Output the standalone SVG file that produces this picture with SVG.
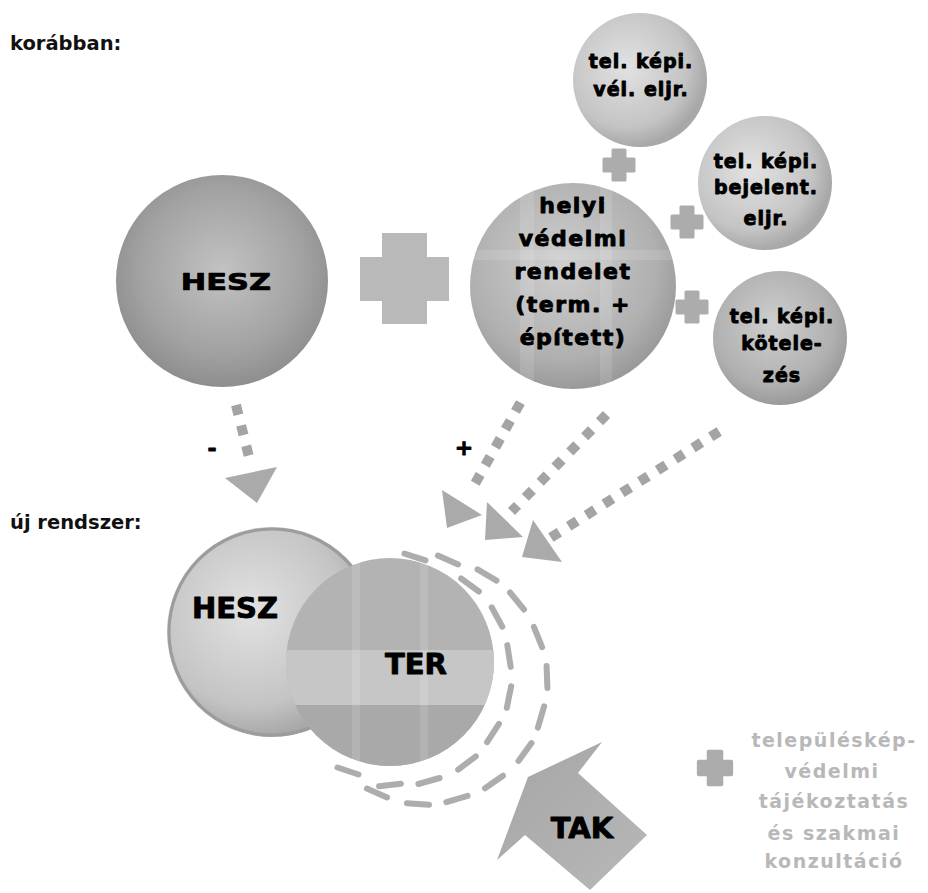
<svg xmlns="http://www.w3.org/2000/svg" xmlns:xlink="http://www.w3.org/1999/xlink" width="928" height="893" viewBox="0 0 928 893">
<style>
.lbl{font-family:"DejaVu Sans","Liberation Sans",sans-serif;font-weight:900;fill:#000;text-anchor:middle;stroke:#000;stroke-width:0.9;stroke-linejoin:round}
.hdr{font-family:"DejaVu Sans","Liberation Sans",sans-serif;font-weight:bold;font-size:19.5px;fill:#111}
.dots{fill:none;stroke:#a4a4a4;stroke-width:10}
.dash{fill:none;stroke:#adadad;stroke-width:6;stroke-linecap:round}
.head{fill:#aaaaaa}
.leg{font-family:"DejaVu Sans","Liberation Sans",sans-serif;font-weight:bold;font-size:19px;fill:#b8b8b8;text-anchor:middle;letter-spacing:1.5px}
.sm{font-size:19px;letter-spacing:1px}
.md{font-size:22px;letter-spacing:1.5px}
.big{font-size:29px}
.stripe{fill:#ffffff;opacity:0.12}
</style>
<defs>
<radialGradient id="gDark" cx="50%" cy="45%" r="55%">
<stop offset="0" stop-color="#c2c2c2"/><stop offset="0.7" stop-color="#a2a2a2"/><stop offset="1" stop-color="#8e8e8e"/>
</radialGradient>
<radialGradient id="gMid" cx="45%" cy="40%" r="60%">
<stop offset="0" stop-color="#cfcfcf"/><stop offset="0.75" stop-color="#b0b0b0"/><stop offset="1" stop-color="#9a9a9a"/>
</radialGradient>
<radialGradient id="gLight" cx="40%" cy="40%" r="60%">
<stop offset="0" stop-color="#e2e2e2"/><stop offset="0.75" stop-color="#c4c4c4"/><stop offset="1" stop-color="#a8a8a8"/>
</radialGradient>
<linearGradient id="gTak" x1="0" y1="0" x2="1" y2="1">
<stop offset="0" stop-color="#a5a5a5"/><stop offset="1" stop-color="#b8b8b8"/>
</linearGradient>
<path id="plus" d="M-6,-15h12v9h9v12h-9v9h-12v-9h-9v-12h9z" fill="#acacac" stroke="#acacac" stroke-width="3" stroke-linejoin="round"/>
<clipPath id="cTer"><circle cx="390" cy="662" r="104"/></clipPath>
<clipPath id="cHelyi"><circle cx="573" cy="286" r="103"/></clipPath>
</defs>

<rect width="928" height="893" fill="#ffffff"/>

<text class="hdr" x="10" y="50">korábban:</text>
<text class="hdr" x="10" y="529">új rendszer:</text>

<g id="connectors">
<line class="dots" x1="236" y1="405" x2="249" y2="457" stroke-dasharray="10 11"/>
<polygon class="head" points="225,478 277,467 257,503"/>
<line class="dots" x1="520.4" y1="402.6" x2="474.6" y2="484.4" stroke-dasharray="10 10.6"/>
<polygon class="head" points="442,490 482,515 447,528"/>
<line class="dots" x1="606.5" y1="414.5" x2="511.5" y2="511.5" stroke-dasharray="10 11.2"/>
<polygon class="head" points="487,502 523,537 485,540"/>
<line class="dots" x1="719.2" y1="431.4" x2="550.8" y2="537.6" stroke-dasharray="10 11"/>
<polygon class="head" points="533,520 562,562 522,557"/>
<g id="arc-inner">
<line class="dash" x1="404.5" y1="553.7" x2="425.5" y2="560.3"/>
<line class="dash" x1="461.1" y1="578.5" x2="478.9" y2="591.5"/>
<line class="dash" x1="491.7" y1="607.3" x2="502.3" y2="626.7"/>
<line class="dash" x1="507.3" y1="645.1" x2="510.7" y2="666.9"/>
<line class="dash" x1="511.2" y1="686.2" x2="506.8" y2="707.8"/>
<line class="dash" x1="498.9" y1="723.8" x2="487.1" y2="742.2"/>
<line class="dash" x1="475.8" y1="756.4" x2="458.2" y2="769.6"/>
<line class="dash" x1="439.6" y1="778" x2="418.4" y2="784"/>
<line class="dash" x1="400.9" y1="783.7" x2="379.1" y2="786.3"/>
<line class="dash" x1="358.5" y1="774.5" x2="337.5" y2="767.5"/>
</g>
<g id="arc-outer">
<line class="dash" x1="437.9" y1="555.6" x2="458.1" y2="564.4"/>
<line class="dash" x1="477.5" y1="569.4" x2="496.5" y2="580.6"/>
<line class="dash" x1="510" y1="592.5" x2="524" y2="609.5"/>
<line class="dash" x1="533.9" y1="626.8" x2="542.1" y2="647.2"/>
<line class="dash" x1="546.6" y1="666" x2="547.4" y2="688"/>
<line class="dash" x1="544.1" y1="706.4" x2="537.9" y2="727.6"/>
<line class="dash" x1="531.5" y1="743.1" x2="518.5" y2="760.9"/>
<line class="dash" x1="503" y1="775.7" x2="485" y2="788.3"/>
<line class="dash" x1="467.6" y1="795.9" x2="446.4" y2="802.1"/>
<line class="dash" x1="429" y1="804.8" x2="407" y2="803.2"/>
<line class="dash" x1="387.1" y1="797.4" x2="366.9" y2="788.6"/>
</g>
</g>

<text class="lbl" x="212" y="456" font-size="22">-</text>
<text class="lbl" x="464" y="455" font-size="22">+</text>

<g id="hesz-old">
<circle cx="222" cy="281" r="106" fill="url(#gDark)"/>
<text class="lbl big" x="226" y="290" transform="translate(0,290) scale(1.05,0.8) translate(-10.8,-290)">HESZ</text>
</g>

<g id="plus-big">
<rect x="382" y="233" width="45" height="91" fill="#b9b9b9"/>
<rect x="360" y="257" width="89" height="44" fill="#b9b9b9"/>
</g>

<g id="helyi">
<circle cx="573" cy="286" r="103" fill="url(#gMid)"/>
<g clip-path="url(#cHelyi)">
<rect class="stripe" x="520" y="180" width="14" height="220"/>
<rect class="stripe" x="600" y="180" width="12" height="220"/>
<rect class="stripe" x="460" y="250" width="230" height="10"/>
</g>
<text class="lbl md" x="573" y="213">helyi</text>
<text class="lbl md" x="573" y="246">védelmi</text>
<text class="lbl md" x="573" y="279">rendelet</text>
<text class="lbl md" x="573" y="312">(term. +</text>
<text class="lbl md" x="573" y="345">épített)</text>
</g>

<use href="#plus" x="619" y="165"/>
<use href="#plus" x="687" y="222"/>
<use href="#plus" x="692" y="307"/>

<g id="vel-eljr">
<circle cx="640" cy="80" r="67" fill="url(#gLight)"/>
<text class="lbl sm" x="641" y="68">tel. képi.</text>
<text class="lbl sm" x="641" y="96">vél. eljr.</text>
</g>

<g id="bejelent">
<circle cx="765" cy="183" r="67" fill="url(#gLight)"/>
<text class="lbl sm" x="766" y="168">tel. képi.</text>
<text class="lbl sm" x="766" y="194">bejelent.</text>
<text class="lbl sm" x="766" y="225">eljr.</text>
</g>

<g id="kotelezes">
<circle cx="780" cy="338" r="67" fill="url(#gMid)"/>
<text class="lbl sm" x="782" y="323">tel. képi.</text>
<text class="lbl sm" x="782" y="350">kötele-</text>
<text class="lbl sm" x="782" y="382">zés</text>
</g>

<g id="hesz-new">
<circle cx="272" cy="632" r="105" fill="url(#gLight)"/>
<circle cx="272" cy="632" r="103" fill="none" stroke="#9c9c9c" stroke-width="3"/>
<text class="lbl big" x="235" y="618">HESZ</text>
</g>

<g id="ter">
<circle cx="390" cy="662" r="104" fill="#b3b3b3"/>
<g clip-path="url(#cTer)">
<rect x="280" y="650" width="220" height="55" fill="#c6c6c6"/>
<rect x="280" y="705" width="220" height="70" fill="#a9a9a9"/>
<rect class="stripe" x="352" y="550" width="8" height="230"/>
<rect class="stripe" x="420" y="550" width="8" height="230"/>
</g>
<text class="lbl big" x="416" y="674">TER</text>
</g>

<g id="tak">
<polygon points="528,777 602,742 578,773 647,835 590,890 525,835 497,860" fill="url(#gTak)"/>
<text class="lbl big" x="582" y="838">TAK</text>
</g>

<g id="legend">
<use href="#plus" x="715" y="768" transform="translate(715,768) scale(1.1) translate(-715,-768)"/>
<text class="leg" x="834" y="747">településkép-</text>
<text class="leg" x="832" y="778">védelmi</text>
<text class="leg" x="834" y="808">tájékoztatás</text>
<text class="leg" x="834" y="840">és szakmai</text>
<text class="leg" x="834" y="868">konzultáció</text>
</g>
</svg>
